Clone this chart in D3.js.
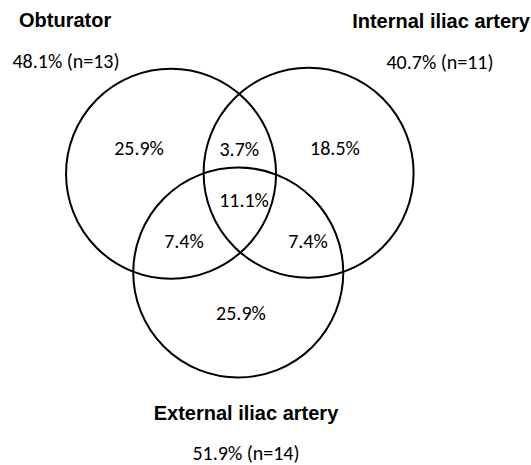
<!DOCTYPE html>
<html>
<head>
<meta charset="utf-8">
<script src="https://cdn.jsdelivr.net/npm/d3@7"></script>
<style>
  body { margin: 0; background: #fff; }
  .set-name { font-family: "Liberation Sans", Arial, sans-serif; font-weight: bold; font-size: 20px; }
  .num { font-family: Carlito, Lato, sans-serif; font-size: 20px; }
</style>
</head>
<body>
<svg id="chart" width="531" height="465"></svg>
<script>
// Sets and their totals
const setNames = ["Obturator", "Internal iliac artery", "External iliac artery"];
const setPct = [48.1, 40.7, 51.9];
const setN = [13, 11, 14];

// Venn regions: membership (index into sets) and share of cases
const regionSets = [[0], [1], [2], [0, 1], [0, 2], [1, 2], [0, 1, 2]];
const regionPct = [25.9, 18.5, 25.9, 3.7, 7.4, 7.4, 11.1];

const width = 531;
const height = 465;
const svg = d3.select("#chart");

// layout in radius units (circle radius = 1)
const centers = [[-0.65, -0.31], [0.66, -0.32], [-0.01, 0.63]];
const regionAnchor = [[-0.955, -0.546], [0.911, -0.546], [0.016, 1.026],
                      [0, -0.536], [-0.527, 0.34], [0.654, 0.34], [0.045, -0.05]];
const radius = 105;
const origin = [239.3, 206.3];

const x = d3.scaleLinear().domain([0, 1]).range([origin[0], origin[0] + radius]);
const y = d3.scaleLinear().domain([0, 1]).range([origin[1], origin[1] + radius]);

svg.selectAll("circle")
    .data(centers)
    .enter()
    .append("circle")
    .attr("cx", d => x(d[0]))
    .attr("cy", d => y(d[1]))
    .attr("r", x(1) - x(0))
    .attr("fill", "none")
    .attr("stroke", "#000")
    .attr("stroke-width", 2);

svg.selectAll(".region")
    .data(regionSets)
    .enter()
    .append("text")
    .attr("class", "num region")
    .attr("x", (d, i) => x(regionAnchor[i][0]))
    .attr("y", (d, i) => y(regionAnchor[i][1]))
    .attr("dy", "0.32em")
    .attr("text-anchor", "middle")
    .text((d, i) => `${regionPct[i].toFixed(1)}%`);

// set titles and totals
const titlePos = [
  {x: 19, y: 27, anchor: "start", px: 66, py: 68},
  {x: 530, y: 28, anchor: "end", px: 440, py: 69},
  {x: 246, y: 420, anchor: "middle", px: 246, py: 460}
];

svg.selectAll(".set-name")
    .data(setNames)
    .enter()
    .append("text")
    .attr("class", "set-name")
    .attr("x", (d, i) => titlePos[i].x)
    .attr("y", (d, i) => titlePos[i].y)
    .attr("text-anchor", (d, i) => titlePos[i].anchor)
    .text(d => d);

svg.selectAll(".set-total")
    .data(setPct)
    .enter()
    .append("text")
    .attr("class", "num set-total")
    .attr("x", (d, i) => titlePos[i].px)
    .attr("y", (d, i) => titlePos[i].py)
    .attr("text-anchor", "middle")
    .text((d, i) => `${d.toFixed(1)}% (n=${setN[i]})`);
</script>
</body>
</html>
